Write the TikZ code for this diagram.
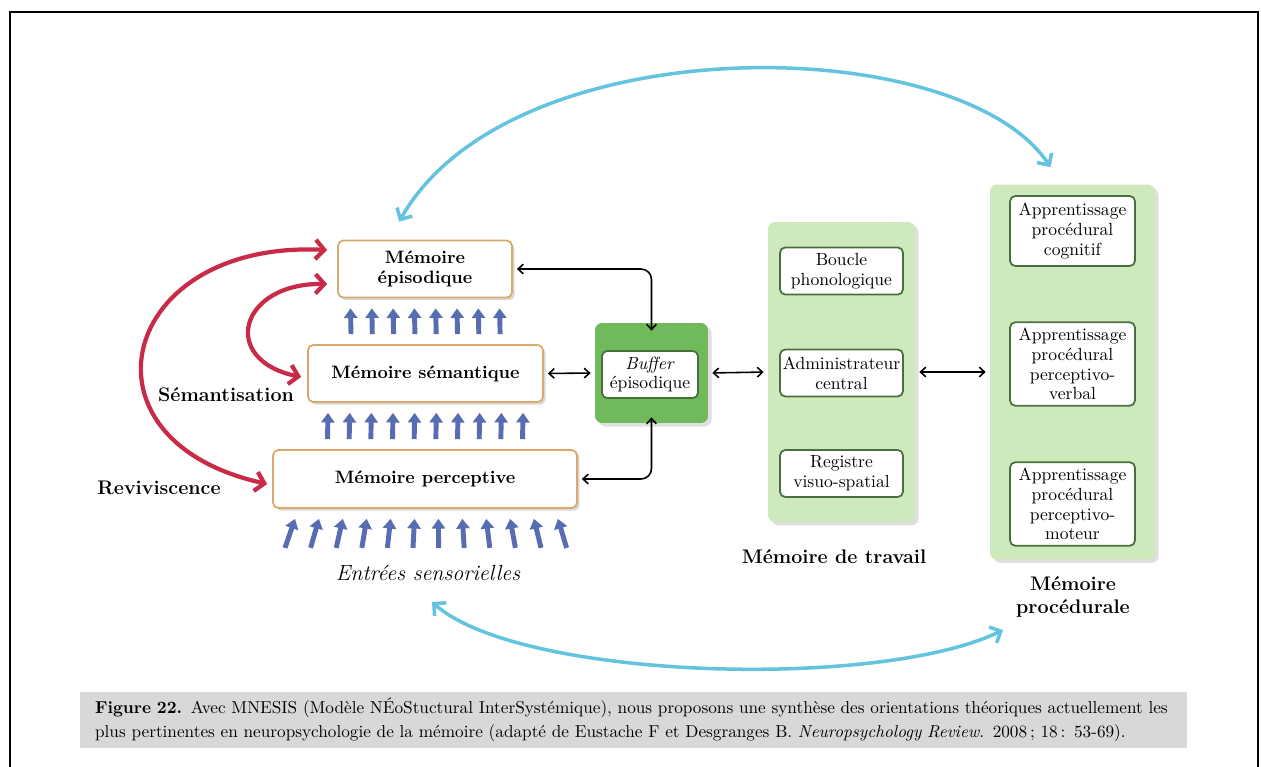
\documentclass[tikz,border=0pt]{standalone}
\usetikzlibrary{positioning,arrows.meta,calc,shadows}

\definecolor{redarr}{RGB}{200,42,72}
\definecolor{cyanarr}{RGB}{100,195,222}
\definecolor{bluearr}{RGB}{88,108,178}
\definecolor{orangeline}{RGB}{218,168,104}
\definecolor{panelgreen}{RGB}{206,233,188}
\definecolor{buffgreen}{RGB}{112,186,92}
\definecolor{darkgreen}{RGB}{72,112,62}
\definecolor{capgray}{RGB}{216,216,216}

\begin{document}
\begin{tikzpicture}[x=0.02cm,y=-0.02cm,
  membox/.style={draw=orangeline,line width=1pt,fill=white,rounded corners=3pt,align=center,
    font=\fontsize{10.2}{11.5}\selectfont\bfseries,drop shadow={shadow xshift=1.5pt,shadow yshift=-1.5pt,opacity=.3}},
  panel/.style={fill=panelgreen,rounded corners=4pt,drop shadow={shadow xshift=2pt,shadow yshift=-2pt,opacity=.25}},
  inbox/.style={draw=darkgreen,line width=1pt,fill=white,rounded corners=3pt,align=center,inner xsep=1pt,
    minimum width=2.46cm,font=\fontsize{10}{11.2}\selectfont},
  lbl/.style={font=\fontsize{11.2}{12.6}\selectfont\bfseries,align=center},
  blk/.style={line width=0.9pt,{Straight Barb[length=3pt,width=5.5pt]}-{Straight Barb[length=3pt,width=5.5pt]},
    shorten <=0.08cm,shorten >=0.08cm},
  redarc/.style={draw=redarr,line width=2.4pt,{Straight Barb[length=5pt,width=11pt]}-{Straight Barb[length=5pt,width=11pt]}},
  cyanarc/.style={draw=cyanarr,line width=2pt,{Straight Barb[length=5pt,width=10pt]}-{Straight Barb[length=5pt,width=10pt]}},
  upar/.style={draw=bluearr,line width=2.8pt,-{Triangle[length=5.5pt,width=7.5pt]}}]

\useasboundingbox (0,0) rectangle (1261,767);
\fill[white] (0,0) rectangle (1261,767);
\draw[line width=1.2pt] (10,790) -- (10,12) -- (1258,12) -- (1258,790);

% memory systems
\node (epi) at (425,269) [membox,minimum width=3.48cm,minimum height=1.14cm] {Mémoire\\épisodique};
\node (sem) at (425.5,373.5) [membox,minimum width=4.7cm,minimum height=1.14cm] {Mémoire sémantique};
\node (perc) at (425,479) [membox,minimum width=6.08cm,minimum height=1.16cm] {Mémoire perceptive};
\node (sens) at (428,573) [font=\fontsize{12.5}{14}\selectfont\itshape] {Entrées sensorielles};
\node (seman) at (226,395) [lbl] {Sémantisation};
\node (reviv) at (159,488) [lbl] {Reviviscence};

% buffer
\node (buf) at (651.5,373) [panel,fill=buffgreen,minimum width=2.26cm,minimum height=2cm] {};
\node (bufin) at (650,374.5) [inbox,minimum width=1.92cm,minimum height=0.9cm] {\textit{Buffer}\\épisodique};

% working memory
\node (wm) at (841.5,372) [panel,minimum width=2.94cm,minimum height=6cm] {};
\node (boucle) at (841.5,271) [inbox,minimum height=0.94cm] {Boucle\\phonologique};
\node (admin) at (841.5,373) [inbox,minimum height=0.94cm] {Administrateur\\central};
\node (regis) at (841.5,473.5) [inbox,minimum height=0.94cm] {Registre\\visuo-spatial};
\node (wmlab) at (834,557) [lbl] {Mémoire de travail};

% procedural memory
\node (proc) at (1072.5,372) [panel,minimum width=3.3cm,minimum height=7.5cm] {};
\node (cogn) at (1072.5,231) [inbox,minimum width=2.5cm,minimum height=1.4cm] {Apprentissage\\procédural\\cognitif};
\node (verb) at (1072.5,364) [inbox,minimum width=2.5cm,minimum height=1.64cm] {Apprentissage\\procédural\\perceptivo-\\verbal};
\node (mot) at (1072.5,504) [inbox,minimum width=2.5cm,minimum height=1.64cm] {Apprentissage\\procédural\\perceptivo-\\moteur};
\node (proclab) at (1073,597) [lbl] {Mémoire\\procédurale};

% caption
\node (cap) at (633.5,720) [fill=capgray,minimum width=22.14cm,minimum height=1.12cm,inner xsep=0.3cm,
  text width=21.54cm,align=left,font=\fontsize{9.8}{13.6}\selectfont]
  {\textbf{Figure 22.} Avec MNESIS (Modèle NÉoStuctural InterSystémique), nous proposons une synthèse des orientations théoriques actuellement les\\
  plus pertinentes en neuropsychologie de la mémoire (adapté de Eustache F et Desgranges B. \textit{Neuropsychology Review}. 2008\,; 18\,: 53-69).};

% sensory arrows
\foreach \i in {0,...,7}
  \draw[upar] ($(sem.north)+(-74.5+21.3*\i,-10)$) -- ($(epi.south)+(-74.5+21.3*\i,10)$);
\foreach \i in {0,...,9}
  \draw[upar] ($(perc.north)+(-97.5+21.67*\i,-10)$) -- ($(sem.south)+(-97.5+21.67*\i,10)$);
\foreach \i in {0,...,11}
  \draw[upar] ($(perc.south)+(-140+25.6*\i,39)$) -- ($(perc.south)+(-130+23.9*\i,10)$);

% black connectors
\draw[blk,rounded corners=6pt] (epi.east) -| ([yshift=-12*0.02cm]buf.north);
\draw[blk] (sem.east) -- (buf.west);
\draw[blk,rounded corners=6pt] (perc.east) -| ([yshift=10*0.02cm]buf.south);
\draw[blk] (buf.east) -- (wm.west);
\draw[blk] (wm.east) -- (proc.west);

% red arcs
\draw[redarc] ($(epi.west)+(-10,-19)$) .. controls +(-208,-10) and +(-198,-44) .. ($(perc.west)+(-5,5)$);
\draw[redarc] ($(epi.west)+(-10,15)$) .. controls +(-88,-1) and +(-82,-17) .. ($(sem.west)+(-6,3.5)$);

% cyan arcs
\coordinate (epitop) at ($(epi.north west)+(62,-18)$);
\coordinate (proctop) at ($(proc.north)+(-22,-17)$);
\coordinate (senslow) at ($(sens.south)+(4,15)$);
\coordinate (proclow) at ($(proclab.west)+(-7,33)$);
\draw[cyanarc] (epitop) .. controls (510,25) and (960,30) .. (proctop);
\draw[cyanarc] (senslow) .. controls (520,680) and (880,690) .. (proclow);
\end{tikzpicture}
\end{document}
